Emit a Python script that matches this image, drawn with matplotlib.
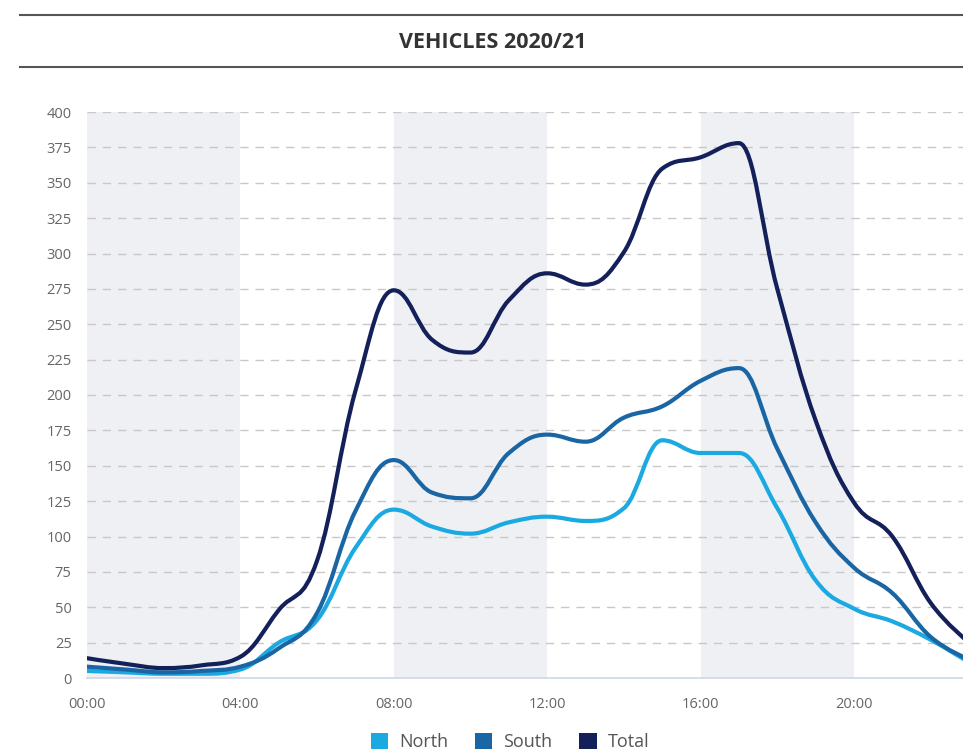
import numpy as np
import matplotlib
matplotlib.use("Agg")
import matplotlib.pyplot as plt
from matplotlib.path import Path
from matplotlib.patches import PathPatch, Patch

hours = list(range(24))
tick_hours = [0, 4, 8, 12, 16, 20]
tick_labels = ["00:00", "04:00", "08:00", "12:00", "16:00", "20:00"]
north = [5, 4, 3, 3, 6, 25, 41, 92, 119, 107, 102, 110, 114, 111, 120, 168, 159, 159, 120, 69, 49, 40, 27, 11]
south = [8, 6, 4, 5, 8, 21, 46, 118, 154, 131, 127, 159, 172, 167, 184, 192, 210, 219, 162, 110, 78, 60, 29, 13]
total = [14, 10, 7, 9, 15, 48, 83, 203, 274, 239, 230, 267, 286, 278, 301, 360, 368, 378, 275, 182, 124, 100, 53, 25]
series_names = ["North", "South", "Total"]
colors = ["#1ba9e1", "#1a66a4", "#13205a"]
bands = [(0, 4), (8, 12), (16, 20)]

plt.rcParams['font.family'] = ['Open Sans', 'DejaVu Sans']


def spline_path(xs, ys, smoothing=1.5):
    xs = np.asarray(xs, float)
    ys = np.asarray(ys, float)
    n = len(xs)
    left = [None] * n
    right = [None] * n
    denom = smoothing + 1
    for i in range(1, n - 1):
        px, py = xs[i], ys[i]
        lx, ly = xs[i - 1], ys[i - 1]
        nx, ny = xs[i + 1], ys[i + 1]
        lcx = (smoothing * px + lx) / denom
        lcy = (smoothing * py + ly) / denom
        rcx = (smoothing * px + nx) / denom
        rcy = (smoothing * py + ny) / denom
        if rcx != lcx:
            corr = ((rcy - lcy) * (rcx - px)) / (rcx - lcx) + py - rcy
            lcy += corr
            rcy += corr
        if lcy > ly and lcy > py:
            lcy = max(ly, py); rcy = 2 * py - lcy
        elif lcy < ly and lcy < py:
            lcy = min(ly, py); rcy = 2 * py - lcy
        if rcy > ny and rcy > py:
            rcy = max(ny, py); lcy = 2 * py - rcy
        elif rcy < ny and rcy < py:
            rcy = min(ny, py); lcy = 2 * py - rcy
        left[i] = (lcx, lcy)
        right[i] = (rcx, rcy)
    verts = [(xs[0], ys[0])]
    codes = [Path.MOVETO]
    for i in range(1, n):
        c1 = right[i - 1] if right[i - 1] is not None else (xs[i - 1], ys[i - 1])
        c2 = left[i] if left[i] is not None else (xs[i], ys[i])
        verts += [c1, c2, (xs[i], ys[i])]
        codes += [Path.CURVE4] * 3
    return Path(verts, codes)


fig = plt.figure(figsize=(9.63, 7.56), dpi=100)
ax = fig.add_axes([87 / 963, 1 - 678 / 756, (963 - 87) / 963, (678 - 112) / 756])

for a, b in bands:
    ax.axvspan(a, b, color="#eef0f3", lw=0, zorder=0)

for yv in range(25, 401, 25):
    ax.axhline(yv, color="#c8c8c8", lw=1, ls=(0, (6, 5)), zorder=1)

for name, vals, c in zip(series_names, [north, south, total], colors):
    p = spline_path(hours, vals)
    ax.add_patch(PathPatch(p, facecolor="none", edgecolor=c, lw=3, zorder=3,
                           capstyle="round", joinstyle="round"))

ax.set_xlim(0, (963 - 87) / 38.35)
ax.set_ylim(0, 400)
ax.set_yticks(range(0, 401, 25))
ax.set_xticks(tick_hours)
ax.set_xticklabels(tick_labels)
for s in ["top", "right", "left"]:
    ax.spines[s].set_visible(False)
ax.spines["bottom"].set_color("#ccd6eb")
ax.spines["bottom"].set_linewidth(1.2)
ax.tick_params(axis="both", length=0, labelsize=10.5, labelcolor="#666666")
ax.tick_params(axis="x", pad=14)
ax.tick_params(axis="y", pad=11)

# Title with rules
fig.add_artist(plt.Line2D([20 / 963, 1], [1 - 15 / 756] * 2, color="#555555", lw=1.5))
fig.add_artist(plt.Line2D([20 / 963, 1], [1 - 67 / 756] * 2, color="#555555", lw=1.5))
fig.text(493 / 963, 1 - 43 / 756, "VEHICLES 2020/21", ha="center", va="center",
         fontsize=15.5, fontweight="bold", color="#333333")

handles = [Patch(facecolor=c, edgecolor="none") for c in colors]
fig.legend(handles, series_names, loc="center", bbox_to_anchor=(510 / 963, 1 - 742 / 756),
           ncol=3, frameon=False, fontsize=13, handlelength=0.95, handleheight=0.95,
           columnspacing=1.5, handletextpad=0.6, labelcolor="#555555")

fig.savefig("out.png", dpi=100)
